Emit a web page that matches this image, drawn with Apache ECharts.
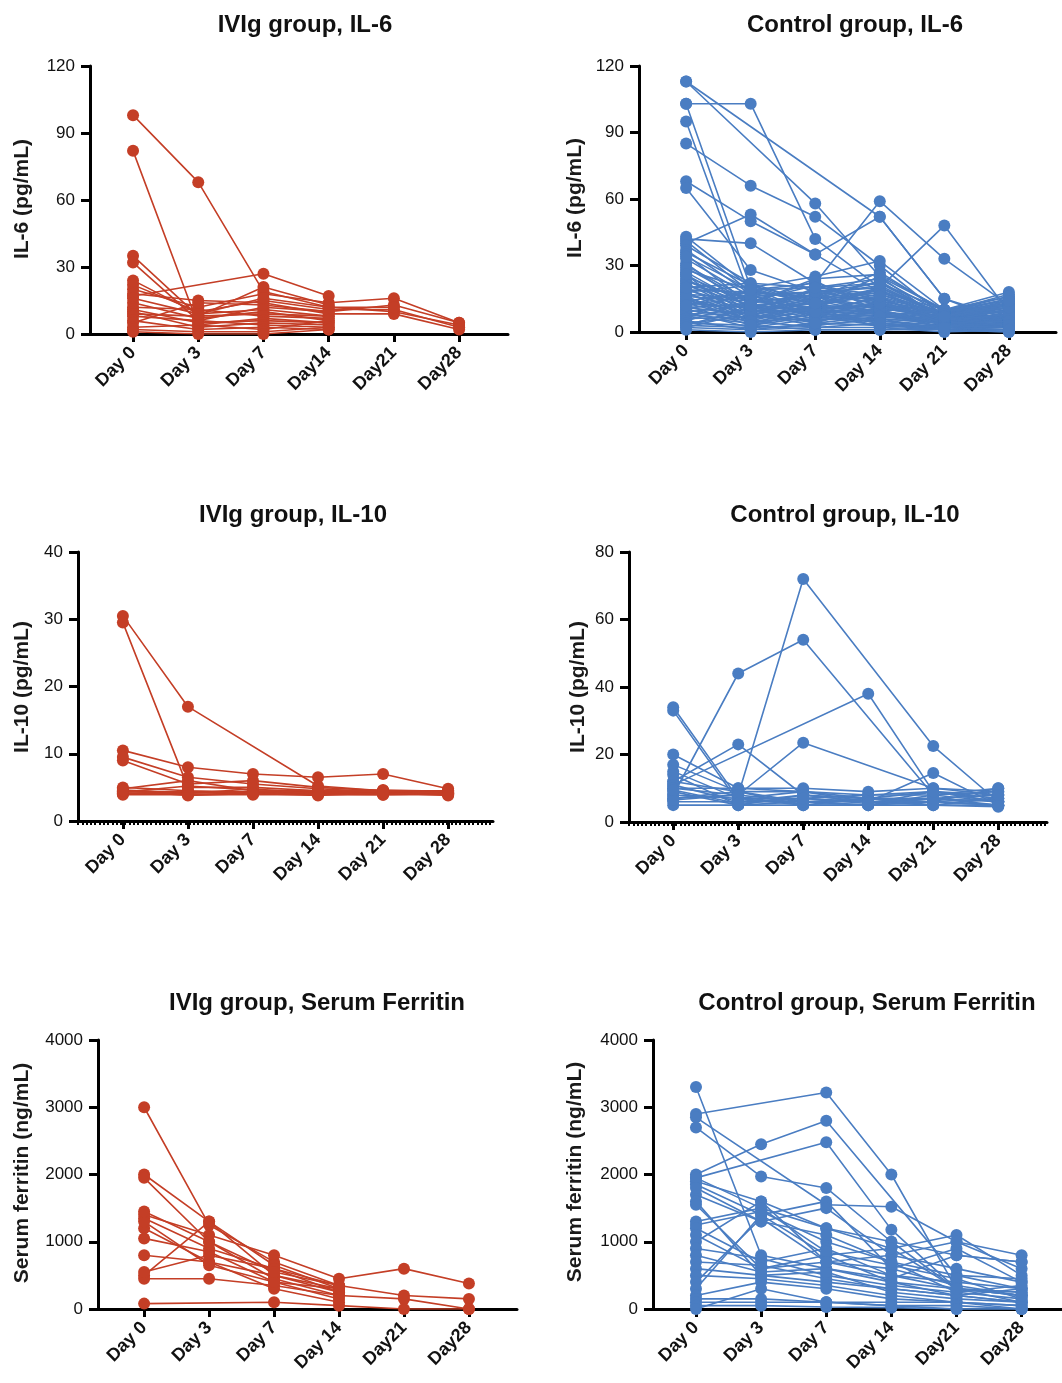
<!DOCTYPE html>
<html>
<head>
<meta charset="utf-8">
<script src="https://cdn.jsdelivr.net/npm/echarts@6/dist/echarts.min.js"></script>
<style>
  html, body { margin: 0; padding: 0; background: #fff; }
  #chart { width: 1062px; height: 1383px; }
</style>
</head>
<body>
<div id="chart"></div>
<script>
// time points (index on the x axis)
const days = [0, 1, 2, 3, 4, 5];
const dayLabelsA = ["Day 0", "Day 3", "Day 7", "Day14", "Day21", "Day28"];
const dayLabelsB = ["Day 0", "Day 3", "Day 7", "Day 14", "Day 21", "Day 28"];
const dayLabelsC = ["Day 0", "Day 3", "Day 7", "Day 14", "Day21", "Day28"];

// one row per patient: Day 0, 3, 7, 14, 21, 28 (null = not measured)
const ivigIL6 = [
  [98, 68, 19, 12, 10, 4],
  [82, 4, 7, 5, null, null],
  [35, 8, 9, 8, null, null],
  [32, 6, 12, 10, 13, 5],
  [17, null, 27, 17, null, null],
  [22, 10, 15, 11, 11, 3],
  [20, 12, 18, 14, 16, 5],
  [18, 15, 14, 9, 9, 2],
  [16, 9, 11, 8, null, null],
  [14, 7, 10, 6, null, null],
  [12, 11, 8, 7, null, null],
  [11, 5, 6, 5, null, null],
  [10, 3, 5, 4, null, null],
  [9, 8, 21, 13, null, null],
  [8, 6, 4, 3, null, null],
  [6, 2, 3, 2, null, null],
  [5, 14, 13, 10, null, null],
  [3, 4, 2, 6, null, null],
  [2, 1, 1, 3, null, null],
  [1, 0, 0, 2, null, null],
  [24, 9, 16, 12, 12, null]
];

const controlIL6 = [
  [113, null, 58, 25, 10, 6],
  [113, null, null, 52, 15, 4],
  [103, 103, 42, 20, 8, 5],
  [103, 20, 12, 8, 5, 3],
  [95, 15, 10, 7, 5, 2],
  [85, 66, 52, 30, 7, 4],
  [68, 50, 35, 18, 10, 3],
  [65, 28, 18, 20, 48, 9],
  [42, 40, 22, 59, 33, 12],
  [40, 53, 35, 52, 15, 6],
  [43, 20, 25, 32, 10, 18],
  [41, 18, 15, 27, 9, 17],
  [39, 22, 20, 24, 8, 15],
  [37, 17, 18, 22, 10, 14],
  [36, 21, 14, 12, 7, 12],
  [35, 12, 10, 9, 6, 11],
  [33, 16, 12, 11, 6, 10],
  [31, 10, 9, 8, 5, 8],
  [30, 14, 16, 15, 9, 13],
  [28, 19, 22, 14, 8, 9],
  [27, 11, 8, 7, 4, 7],
  [26, 9, 13, 18, 7, 6],
  [25, 13, 17, 13, 5, 5],
  [24, 8, 11, 10, 9, 16],
  [23, 15, 7, 6, 4, 4],
  [22, 7, 19, 16, 3, 3],
  [21, 12, 6, 11, 6, 8],
  [20, 6, 14, 9, 5, 6],
  [19, 18, 9, 5, 3, 2],
  [18, 5, 12, 17, 7, 5],
  [17, 10, 5, 8, 4, 4],
  [16, 14, 21, 13, 8, 7],
  [15, 4, 8, 4, 2, 3],
  [14, 9, 4, 7, 6, 2],
  [13, 11, 10, 12, 5, 5],
  [12, 3, 7, 3, 2, 1],
  [11, 8, 3, 6, 4, 3],
  [10, 6, 9, 10, 3, 6],
  [9, 2, 6, 5, 2, 2],
  [8, 5, 2, 4, 1, 1],
  [7, 4, 11, 2, 3, 4],
  [6, 7, 5, 9, 2, 2],
  [5, 1, 4, 3, 1, 3],
  [4, 3, 1, 1, 2, 1],
  [3, 2, 3, 6, 1, 0],
  [2, 1, 2, 2, 0, 1],
  [1, 0, 1, 1, 1, 0],
  [29, 13, 24, 26, 10, 12],
  [34, 19, 13, 20, 7, 9],
  [12, 16, 18, 14, 9, 11],
  [7, 9, 15, 19, 8, 14],
  [18, 21, 12, 8, 5, 7],
  [19, 11, 17, 21, 7, 10],
  [17, 15, 10, 15, 6, 8],
  [15, 8, 20, 17, 9, 12],
  [14, 18, 16, 11, 8, 13],
  [13, 6, 12, 19, 4, 9],
  [11, 13, 23, 9, 7, 11],
  [10, 17, 7, 14, 5, 10],
  [9, 12, 15, 23, 6, 7],
  [8, 10, 19, 12, 9, 15],
  [6, 20, 8, 16, 3, 6],
  [5, 14, 11, 20, 8, 12],
  [4, 7, 16, 8, 2, 4],
  [3, 11, 13, 25, 5, 8],
  [2, 9, 10, 13, 4, 5],
  [16, 5, 6, 10, 3, 2],
  [21, 16, 18, 7, 10, 16],
  [23, 12, 4, 13, 6, 3],
  [26, 3, 9, 4, 2, 1],
  [20, 22, 13, 16, 8, 11],
  [12, 19, 20, 22, 7, 14]
];

const ivigIL10 = [
  [30.5, 17, null, 5.2, 4.5, 4.2],
  [29.5, 5, 5, 4.5, 4.5, 4],
  [10.5, 8, 7, 6.5, 7, 4.8],
  [9, 5.5, 6, 5, 4.5, 4.5],
  [9.5, 6.5, 5.5, 4.8, 4.3, 4],
  [5, 4.5, 4.3, 4.2, 4.3, 4.5],
  [4.8, 6, 4.5, 4.1, 4.2, 4.1],
  [4.6, 4.2, 4.4, 4.3, 4.1, 4.3],
  [4.4, 4.3, 4.2, 4, 4, 4],
  [4.2, 4, 4.1, 4.4, 4.4, 4.2],
  [4, 4.4, 4, 4.2, 4.1, 4],
  [3.9, 3.9, 3.9, 3.9, 3.9, 3.9],
  [4.3, 5.2, 4.6, 4.5, 4.6, 4.4],
  [4.1, 4.1, 4.8, 4, 3.9, 4.1],
  [4.5, 3.8, 4.1, 3.8, 4.2, 3.8]
];

const controlIL10 = [
  [8, 44, 54, null, 8, 6],
  [12, 23, 8, 7, 9, 7],
  [7, 8, 72, null, 22.5, 6],
  [10, 8, 23.5, null, 10, 8],
  [11, null, null, 38, 9, 6],
  [34, 7, 7, 6, 6, 5],
  [33, 6, 6, 7, 7, 6],
  [20, 10, 9, 6, 14.5, 5],
  [17, 9, 6, 5, 8, 9],
  [15, 7, 9, 7, 6, 10],
  [14, 5, 8, 6, 5, 7],
  [12, 9, 5, 5, 7, 8],
  [11, 6, 7, 8, 9, 6],
  [10, 10, 10, 9, 10, 9],
  [9, 5, 6, 5, 6, 5],
  [8, 7, 5, 7, 5, 4.5],
  [7, 9, 9, 8, 8, 10],
  [6, 6, 8, 6, 6, 7],
  [5, 5, 5, 5, 5, 5],
  [6.5, 8, 6, 6, 7, 5],
  [9.5, 5.5, 7, 5.5, 9, 8]
];

const ivigFerritin = [
  [3000, 1250, 700, 350, 200, 150],
  [2000, 1300, 500, 300, null, null],
  [1950, 1000, 450, 200, 150, 0],
  [1400, 1100, 800, 450, 600, 380],
  [1350, 900, 600, 350, null, null],
  [1200, 700, 500, 250, null, null],
  [1050, 850, 400, 150, null, null],
  [500, 1300, 650, 300, null, null],
  [800, 700, 300, 100, null, null],
  [450, 450, 350, 200, null, null],
  [550, 800, 600, 250, null, null],
  [80, null, 100, 50, 0, 0],
  [1300, 650, 400, 300, null, null],
  [1450, 1000, 550, 350, null, null]
];

const controlFerritin = [
  [2900, null, 3220, 2000, 300, 200],
  [2000, 2450, 2800, null, 500, 300],
  [1950, null, 2480, 1180, 300, 100],
  [3300, 800, 600, 400, 200, 100],
  [2700, 1970, 1800, 1000, 800, 700],
  [2850, null, 1550, 1520, 1000, 800],
  [1900, 1600, 1200, 900, 1100, 500],
  [1850, 1400, 1600, 600, 900, 400],
  [1700, 1300, 1500, 800, 1000, 600],
  [1600, 500, 400, 300, 200, 100],
  [1300, 1500, 1200, 1000, 300, 200],
  [1250, 1450, 1000, 700, 500, 450],
  [1200, 700, 900, 500, 400, 300],
  [1100, 600, 800, 400, 300, 250],
  [1000, 1600, 700, 600, 350, 200],
  [900, 750, 500, 350, 250, 150],
  [800, 550, 600, 450, 800, 700],
  [700, 650, 450, 300, 200, 300],
  [600, 500, 550, 250, 150, 100],
  [500, 450, 350, 200, 100, 50],
  [400, 1350, 700, 800, 600, 400],
  [300, 1400, 800, 900, 300, 250],
  [200, 400, 300, 150, 100, 0],
  [150, 150, 100, 100, 100, 50],
  [100, 100, 100, 50, 50, 0],
  [50, 50, 30, 20, 0, 0],
  [0, 300, 100, 50, 0, 0],
  [1950, 1500, 850, 650, 450, 150],
  [1800, 1300, 1100, 700, 250, 350],
  [1550, 600, 700, 500, 300, 200]
];

const RED = "#C43E26";
const BLUE = "#4A7DC2";
const FONT = "Liberation Sans, Arial, sans-serif";

// layout of the six panels (pixels)
const panels = [
  { title: "IVIg group, IL-6", yName: "IL-6 (pg/mL)", rows: ivigIL6, color: RED, labels: dayLabelsA,
    left: 90, top: 66, width: 418, height: 268, xMin: -0.66, xMax: 5.75, yMax: 120, yStep: 30,
    titleX: 300, titleY: 8, nameX: 22, nameY: 199, minor: false },
  { title: "Control group, IL-6", yName: "IL-6 (pg/mL)", rows: controlIL6, color: BLUE, labels: dayLabelsB,
    left: 639, top: 66, width: 417, height: 266, xMin: -0.73, xMax: 5.73, yMax: 120, yStep: 30,
    titleX: 850, titleY: 8, nameX: 575, nameY: 198, minor: false },
  { title: "IVIg group, IL-10", yName: "IL-10 (pg/mL)", rows: ivigIL10, color: RED, labels: dayLabelsB,
    left: 78, top: 552, width: 415, height: 269, xMin: -0.69, xMax: 5.69, yMax: 40, yStep: 10,
    titleX: 288, titleY: 498, nameX: 22, nameY: 687, minor: true },
  { title: "Control group, IL-10", yName: "IL-10 (pg/mL)", rows: controlIL10, color: BLUE, labels: dayLabelsB,
    left: 629, top: 552, width: 418, height: 270, xMin: -0.68, xMax: 5.75, yMax: 80, yStep: 20,
    titleX: 840, titleY: 498, nameX: 578, nameY: 687, minor: true },
  { title: "IVIg group, Serum Ferritin", yName: "Serum ferritin (ng/mL)", rows: ivigFerritin, color: RED, labels: dayLabelsC,
    left: 98, top: 1040, width: 419, height: 269, xMin: -0.71, xMax: 5.74, yMax: 4000, yStep: 1000,
    titleX: 312, titleY: 986, nameX: 22, nameY: 1173, minor: false },
  { title: "Control group, Serum Ferritin", yName: "Serum ferritin (ng/mL)", rows: controlFerritin, color: BLUE, labels: dayLabelsC,
    left: 653, top: 1040, width: 409, height: 269, xMin: -0.66, xMax: 5.62, yMax: 4000, yStep: 1000,
    titleX: 862, titleY: 986, nameX: 575, nameY: 1172, minor: false }
];

let chart = echarts.init(document.getElementById("chart"), null, { renderer: "canvas" });

let grids = [], xAxes = [], yAxes = [], series = [], titles = [], graphics = [];

panels.forEach((p, i) => {
  grids.push({ left: p.left, top: p.top, width: p.width, height: p.height, containLabel: false });

  xAxes.push({
    type: "value", gridIndex: i, min: p.xMin, max: p.xMax,
    splitLine: { show: false },
    axisLine: { show: true, onZero: false, lineStyle: { color: "#000", width: 3 } },
    axisTick: { show: true, customValues: days, length: 8, lineStyle: { color: "#000", width: 3 } },
    axisLabel: {
      show: true, customValues: days, rotate: 45, margin: 16,
      formatter: v => p.labels[Math.round(v)],
      fontFamily: FONT, fontSize: 18, fontWeight: "bold", color: "#111"
    }
  });

  yAxes.push({
    type: "value", gridIndex: i, min: 0, max: p.yMax, interval: p.yStep,
    splitLine: { show: false },
    axisLine: { show: true, onZero: false, lineStyle: { color: "#000", width: 3 } },
    axisTick: { show: true, length: 9, lineStyle: { color: "#000", width: 3 } },
    axisLabel: { fontFamily: FONT, fontSize: 17, color: "#111", margin: 15, formatter: v => String(v) }
  });

  titles.push({
    text: p.title, left: p.titleX, top: p.titleY, textAlign: "center",
    textStyle: { fontFamily: FONT, fontSize: 24, fontWeight: "bold", color: "#111" }
  });

  graphics.push({
    type: "text", x: p.nameX, y: p.nameY, rotation: Math.PI / 2,
    style: {
      text: p.yName, font: "bold 21px " + FONT, fill: "#1a1a1a",
      align: "center", verticalAlign: "middle",
      textAlign: "center", textVerticalAlign: "middle"
    }
  });

  p.rows.forEach(row => {
    series.push({
      type: "line",
      xAxisIndex: i, yAxisIndex: i,
      data: row.map((v, k) => [days[k], v]).filter(d => d[1] !== null),
      symbol: "circle", symbolSize: 12,
      itemStyle: { color: p.color },
      lineStyle: { color: p.color, width: 1.6 },
      silent: true, animation: false
    });
  });
});

// small dotted minor ticks along the IL-10 x axes
panels.forEach((p, i) => {
  if (!p.minor) return;
  let ticks = [];
  for (let k = 0; p.xMin + k * 0.066 <= p.xMax; k++) ticks.push(p.xMin + k * 0.066);
  xAxes.push({
    type: "value", gridIndex: i, min: p.xMin, max: p.xMax, position: "bottom",
    splitLine: { show: false },
    axisLine: { show: false },
    axisLabel: { show: false },
    axisTick: { show: true, customValues: ticks, length: 4, lineStyle: { color: "#000", width: 2 } }
  });
});

chart.setOption({
  animation: false,
  backgroundColor: "#fff",
  title: titles,
  grid: grids,
  xAxis: xAxes,
  yAxis: yAxes,
  series: series,
  graphic: graphics
});
</script>
</body>
</html>
